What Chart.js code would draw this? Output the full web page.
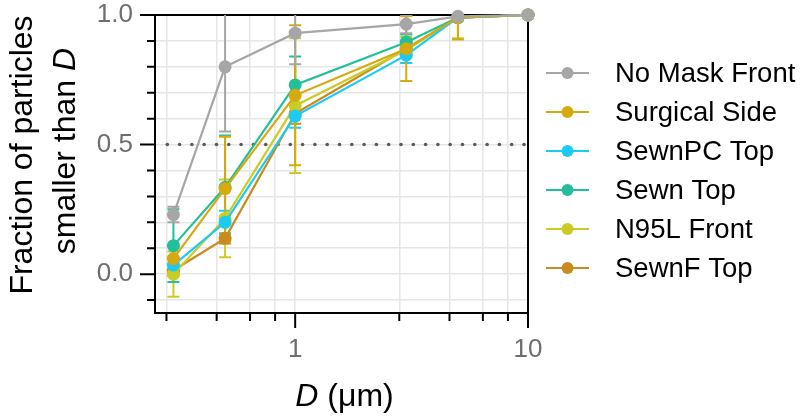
<!DOCTYPE html>
<html><head><meta charset="utf-8">
<script src="https://cdn.jsdelivr.net/npm/chart.js@4/dist/chart.umd.min.js"></script>
<style>html,body{margin:0;padding:0;background:#fff}#wrap{width:800px;height:420px}</style>
</head><body><div id="wrap"><canvas id="c" width="800" height="420"></canvas></div>
<script>
// ---------- data ----------
const sizes = [0.3, 0.5, 1, 3, 5, 10];
const seriesNames = ['No Mask Front', 'Surgical Side', 'SewnPC Top', 'Sewn Top', 'N95L Front', 'SewnF Top'];
const noMaskFront    = [0.23, 0.80, 0.93, 0.965, 0.995, 1.0];
const noMaskFrontErr = [0.03, 0.25, 0.12, 0.035, 0.01, 0];
const surgicalSide    = [0.06, 0.33, 0.69, 0.87, 0.99, 1.0];
const surgicalSideErr = [0.05, 0.20, 0.27, 0.125, 0.085, 0];
const sewnPCTop    = [0.035, 0.20, 0.61, 0.845, 0.99, 1.0];
const sewnPCTopErr = [0.03, 0.045, 0.045, 0.03, 0.01, 0];
const sewnTop    = [0.11, 0.335, 0.73, 0.895, 0.99, 1.0];
const sewnTopErr = [0.14, 0.20, 0.11, 0.03, 0.01, 0];
const n95lFront    = [0.0, 0.215, 0.65, 0.865, 0.99, 1.0];
const n95lFrontErr = [0.087, 0.15, 0.26, 0.05, 0.08, 0];
const sewnFTop    = [0.015, 0.138, 0.62, 0.87, 0.99, 1.0];
const sewnFTopErr = [0.02, 0.02, 0.04, 0.02, 0.01, 0];
const xTickValues = [0.28, 0.46, 0.64, 0.82, 1, 2.8, 4.6, 6.4, 8.2, 10];
const xMajorTicks = [1, 10];
const yTickValues = [-0.1, 0, 0.1, 0.2, 0.3, 0.4, 0.5, 0.6, 0.7, 0.8, 0.9, 1.0];
const yMajorTicks = [0, 0.5, 1.0];
const refLineValue = 0.5;

// ---------- styling ----------
const colors = ['#a6a6a6', '#d6a90f', '#1ccbf2', '#22bf9a', '#cbcb25', '#c98a1e'];
const FONT = "'Liberation Sans', Arial, sans-serif";
const allVals = [noMaskFront, surgicalSide, sewnPCTop, sewnTop, n95lFront, sewnFTop];
const allErrs = [noMaskFrontErr, surgicalSideErr, sewnPCTopErr, sewnTopErr, n95lFrontErr, sewnFTopErr];

const datasets = seriesNames.map((name, i) => ({
  label: name,
  data: sizes.map((x, j) => ({x: x, y: allVals[i][j]})),
  borderColor: colors[i],
  backgroundColor: colors[i],
  borderWidth: 2.2,
  pointRadius: 6.5,
  pointBorderWidth: 0,
  pointHoverRadius: 6.5,
  tension: 0,
  clip: false,
  errs: allErrs[i]
}));

const isIn = (v, arr) => arr.some(a => Math.abs(a - v) < 1e-9);

const customPlugin = {
  id: 'custom',
  beforeDatasetsDraw(chart) {
    const ctx = chart.ctx, ca = chart.chartArea;
    const xs = chart.scales.x, ys = chart.scales.y;
    // frame top and right
    ctx.save();
    ctx.strokeStyle = '#000'; ctx.lineWidth = 2;
    ctx.beginPath();
    ctx.moveTo(ca.left - 1, ca.top); ctx.lineTo(ca.right + 1, ca.top);
    ctx.moveTo(ca.right, ca.top); ctx.lineTo(ca.right, ca.bottom);
    ctx.stroke();
    ctx.restore();
    // dotted reference line
    const yr = ys.getPixelForValue(refLineValue);
    ctx.save();
    ctx.fillStyle = '#5a5a5a';
    for (let x = ca.left + 12.3; x <= ca.right - 2; x += 12.3) {
      ctx.beginPath(); ctx.arc(x, yr, 1.8, 0, Math.PI * 2); ctx.fill();
    }
    ctx.restore();
    // error bars
    ctx.save();
    ctx.beginPath(); ctx.rect(ca.left, ca.top, ca.right - ca.left, ca.bottom - ca.top); ctx.clip();
    for (let i = chart.data.datasets.length - 1; i >= 0; i--) {
      const ds = chart.data.datasets[i];
      ctx.strokeStyle = ds.borderColor; ctx.lineWidth = 2;
      ds.data.forEach((p, j) => {
        const e = ds.errs[j];
        if (!e) return;
        const px = xs.getPixelForValue(p.x);
        const y1 = ys.getPixelForValue(p.y - e), y2 = ys.getPixelForValue(p.y + e);
        ctx.beginPath();
        ctx.moveTo(px, y1); ctx.lineTo(px, y2);
        ctx.moveTo(px - 6, y1); ctx.lineTo(px + 6, y1);
        ctx.moveTo(px - 6, y2); ctx.lineTo(px + 6, y2);
        ctx.stroke();
      });
    }
    ctx.restore();
  },
  afterDraw(chart) {
    const ctx = chart.ctx, ca = chart.chartArea;
    const xs = chart.scales.x, ys = chart.scales.y;
    ctx.save();
    ctx.strokeStyle = '#000'; ctx.lineWidth = 2;
    ctx.beginPath();
    yTickValues.forEach(v => {
      const y = ys.getPixelForValue(v);
      const len = isIn(v, yMajorTicks) ? 15 : 8;
      ctx.moveTo(ca.left - len, y); ctx.lineTo(ca.left, y);
    });
    xTickValues.forEach(v => {
      const x = xs.getPixelForValue(v);
      const len = isIn(v, xMajorTicks) ? 15 : 8;
      ctx.moveTo(x, ca.bottom); ctx.lineTo(x, ca.bottom + len);
    });
    ctx.stroke();
    // x axis title
    ctx.fillStyle = '#000';
    ctx.textBaseline = 'alphabetic';
    const fs = 32;
    const itF = 'italic ' + fs + 'px ' + FONT, nF = fs + 'px ' + FONT;
    ctx.font = itF; const wD = ctx.measureText('D').width;
    ctx.font = nF; const wR = ctx.measureText(' (\u03bcm)').width;
    const cx = (ca.left + ca.right) / 2 + 3;
    let sx = cx - (wD + wR) / 2;
    ctx.font = itF; ctx.fillText('D', sx, 406);
    ctx.font = nF; ctx.fillText(' (\u03bcm)', sx + wD, 406);
    // y axis title
    const cy = 155;
    ctx.save();
    ctx.translate(0, cy);
    ctx.rotate(-Math.PI / 2);
    ctx.textAlign = 'center';
    ctx.font = nF;
    ctx.fillText('Fraction of particles', 0, 32);
    ctx.textAlign = 'left';
    const l2a = 'smaller than ';
    const w2a = ctx.measureText(l2a).width;
    ctx.font = itF; const w2b = ctx.measureText('D').width;
    const s2 = -(w2a + w2b) / 2 + 4;
    ctx.font = nF; ctx.fillText(l2a, s2, 75);
    ctx.font = itF; ctx.fillText('D', s2 + w2a, 75);
    ctx.restore();
    // legend
    ctx.textBaseline = 'middle'; ctx.textAlign = 'left';
    ctx.font = '27.5px ' + FONT;
    chart.data.datasets.forEach((ds, i) => {
      const y = 73 + i * 39;
      ctx.strokeStyle = ds.borderColor; ctx.lineWidth = 2;
      ctx.beginPath(); ctx.moveTo(546, y); ctx.lineTo(589, y); ctx.stroke();
      ctx.fillStyle = ds.borderColor;
      ctx.beginPath(); ctx.arc(567.5, y, 6, 0, Math.PI * 2); ctx.fill();
      ctx.fillStyle = '#000';
      ctx.fillText(ds.label, 615, y + 1);
    });
    ctx.restore();
  }
};

new Chart(document.getElementById('c'), {
  type: 'line',
  data: {datasets: datasets},
  options: {
    responsive: false,
    animation: false,
    devicePixelRatio: 1,
    layout: {padding: {top: 15, right: 272, left: 0, bottom: 0}},
    plugins: {legend: {display: false}, tooltip: {enabled: false}},
    scales: {
      x: {
        type: 'logarithmic', min: 0.25, max: 10,
        afterBuildTicks: s => { s.ticks = xTickValues.map(v => ({value: v})); },
        afterFit: s => { s.height = 107; s.paddingLeft = 0; s.paddingRight = 0; },
        ticks: {
          autoSkip: false, maxRotation: 0, minRotation: 0,
          callback: v => isIn(v, xMajorTicks) ? String(v) : '',
          font: {size: 26, family: FONT}, color: '#6e6e6e', padding: 21
        },
        grid: {color: '#e6e6e6', lineWidth: 1.5, drawTicks: false},
        border: {color: '#000', width: 2}
      },
      y: {
        type: 'linear', min: -0.15, max: 1.0,
        afterBuildTicks: s => { s.ticks = yTickValues.map(v => ({value: v})); },
        afterFit: s => { s.width = 155; s.paddingTop = 0; s.paddingBottom = 0; },
        ticks: {
          autoSkip: false,
          callback: v => isIn(v, yMajorTicks) ? Number(v).toFixed(1) : '',
          font: {size: 26, family: FONT}, color: '#6e6e6e', padding: 22
        },
        grid: {color: '#e6e6e6', lineWidth: 1.5, drawTicks: false},
        border: {color: '#000', width: 2}
      }
    }
  },
  plugins: [customPlugin]
});
</script>
</body></html>
